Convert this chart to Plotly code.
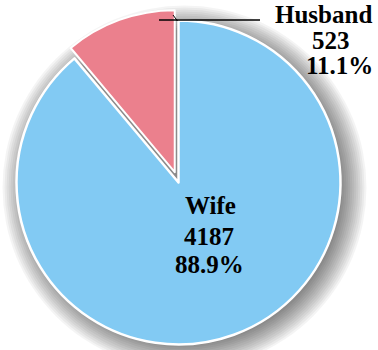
import math
import plotly.graph_objects as go

# Household decision-maker counts
categories = ["Wife", "Husband"]
counts = [4187, 523]
slice_colors = ["#82CAF3", "#EB808D"]

W, H = 378, 350
CX, CY, R = 178.5, 182.5, 162.0   # pie centre and radius, pixels from top-left
PULL_PX = 11.0                     # how far the Husband wedge is pulled out

total = sum(counts)
shares = [c / total for c in counts]

# Husband wedge spans from 12 o'clock counter-clockwise; pull along its bisector
mid_angle = math.pi * shares[1]          # radians left of vertical
hx = CX - PULL_PX * math.sin(mid_angle)
hy = CY - PULL_PX * math.cos(mid_angle)


def domain(cx, cy, r):
    return dict(x=[(cx - r) / W, (cx + r) / W],
                y=[(H - cy - r) / H, (H - cy + r) / H])


fig = go.Figure()

# Wife wedge (Husband slot left transparent)
fig.add_trace(go.Pie(
    labels=categories, values=counts, sort=False, direction="clockwise",
    rotation=0, domain=domain(CX, CY, R),
    marker=dict(colors=[slice_colors[0], "rgba(0,0,0,0)"],
                line=dict(color=["white", "rgba(0,0,0,0)"], width=2.5)),
    textinfo="none", hoverinfo="label+value+percent", showlegend=False,
))

# Pulled-out Husband wedge
fig.add_trace(go.Pie(
    labels=categories, values=counts, sort=False, direction="clockwise",
    rotation=0, domain=domain(hx, hy, R),
    marker=dict(colors=["rgba(0,0,0,0)", slice_colors[1]],
                line=dict(color=["rgba(0,0,0,0)", "white"], width=2)),
    textinfo="none", hoverinfo="label+value+percent", showlegend=False,
))

# Soft drop shadow under the pie: stacked translucent discs
shapes = []
SX, SY = CX + 6, CY + 5
for k in range(13):
    rr = R - 4 + 2 * k
    shapes.append(dict(
        type="circle", xref="paper", yref="paper", layer="below",
        x0=(SX - rr) / W, x1=(SX + rr) / W,
        y0=(H - SY - rr) / H, y1=(H - SY + rr) / H,
        fillcolor="rgba(0,0,0,0.045)", line=dict(width=0),
    ))

# Leader line to the Husband label
shapes.append(dict(type="line", xref="paper", yref="paper", layer="above",
                   x0=159 / W, x1=260 / W, y0=1 - 20 / H, y1=1 - 20 / H,
                   line=dict(color="black", width=1.5)))
shapes.append(dict(type="line", xref="paper", yref="paper", layer="above",
                   x0=173 / W, x1=177.5 / W, y0=1 - 15 / H, y1=1 - 21 / H,
                   line=dict(color="black", width=1)))

font = dict(family="Liberation Serif", size=25, color="black")


def label_lines(lines, centers, baselines):
    out = []
    for txt, x, b in zip(lines, centers, baselines):
        out.append(dict(text="<b>%s</b>" % txt, x=x / W, y=1 - (b - 8) / H,
                        xref="paper", yref="paper", xanchor="center",
                        yanchor="middle", showarrow=False, font=font))
    return out


def texts(i):
    return [categories[i], str(counts[i]), "%.1f%%" % (100 * shares[i])]


annotations = (label_lines(texts(0), [210, 209, 209.5], [213, 244, 272]) +
               label_lines(texts(1), [323.5, 331, 339], [23, 48, 73]))

fig.update_layout(
    width=W, height=H, margin=dict(l=0, r=0, t=0, b=0),
    paper_bgcolor="white", plot_bgcolor="white",
    shapes=shapes, annotations=annotations, showlegend=False,
)

fig.write_html("out.html")
